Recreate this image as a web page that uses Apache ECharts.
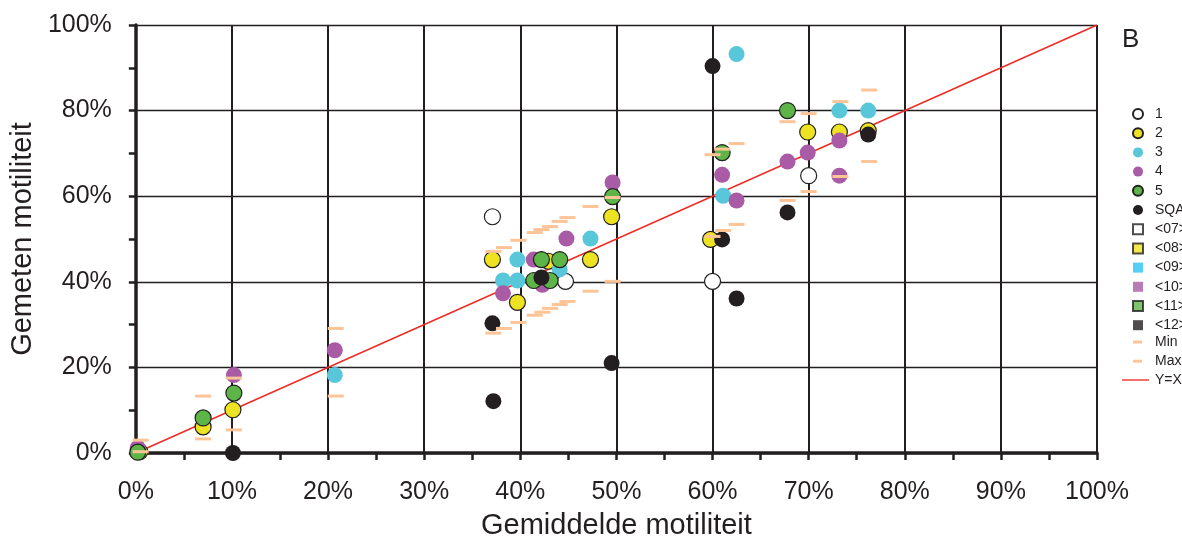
<!DOCTYPE html>
<html>
<head>
<meta charset="utf-8">
<script src="https://cdn.jsdelivr.net/npm/echarts@6/dist/echarts.min.js"></script>
<style>
  html, body { margin: 0; padding: 0; background: #fff; }
  #chart { width: 1182px; height: 545px; }
</style>
</head>
<body>
<div id="chart"></div>
<script>
// values in percent, [gemiddelde, gemeten]
const series1 = [[37.1, 55.2], [44.7, 40.1], [60.0, 40.1], [70.0, 64.8]];
const series2 = [[0.4, 0.3], [7.0, 6.1], [10.1, 10.1], [37.1, 45.2], [39.7, 35.2], [42.9, 44.8],
  [47.3, 45.2], [49.5, 55.2], [59.8, 49.9], [69.9, 75.0], [73.2, 75.0], [76.2, 75.3]];
const series3 = [[20.7, 18.2], [38.2, 40.3], [39.7, 40.3], [39.7, 45.2], [44.1, 42.9], [47.3, 50.1],
  [61.1, 60.1], [62.5, 93.2], [73.2, 80.0], [76.2, 80.0]];
const series4 = [[0.2, 1.2], [10.2, 18.2], [20.7, 24.0], [38.2, 37.3], [41.4, 45.2], [42.3, 39.3],
  [44.8, 50.1], [49.6, 63.2], [61.0, 65.0], [62.5, 59.0], [67.8, 68.1], [69.9, 70.2], [73.2, 73.0], [73.2, 64.8]];
const series5 = [[0.2, 0.2], [7.0, 8.2], [10.2, 14.0], [41.4, 40.3], [42.2, 45.2], [43.1, 40.3],
  [44.1, 45.2], [49.6, 59.9], [61.0, 70.2], [67.8, 80.0]];
const sqa = [[10.1, 0], [37.1, 30.3], [37.2, 12.1], [42.2, 41.0], [49.5, 21.0], [60.0, 90.4],
  [61.0, 49.9], [62.5, 36.1], [67.8, 56.2], [76.2, 74.4]];
const minValues = [[0.5, 0.3], [7.0, 3.3], [10.2, 5.4], [20.8, 13.3], [37.2, 28.0], [38.3, 29.1],
  [39.8, 30.5], [41.5, 32.2], [42.3, 32.9], [43.1, 33.8], [44.1, 34.7], [44.9, 35.4], [47.3, 37.8],
  [49.6, 40.1], [60.0, 50.6], [61.1, 52.0], [62.5, 53.4], [67.8, 59.0], [70.0, 61.1], [73.3, 64.6], [76.3, 68.1]];
const maxValues = [[0.5, 3.0], [7.0, 13.3], [10.2, 17.5], [20.8, 29.1], [37.2, 47.1], [38.3, 48.0],
  [39.8, 49.7], [41.5, 51.5], [42.2, 52.2], [43.1, 52.9], [44.1, 54.1], [44.9, 55.0], [47.3, 57.6],
  [49.6, 59.7], [60.0, 69.7], [61.0, 71.0], [62.5, 72.3], [67.8, 77.4], [70.0, 79.3], [73.3, 82.1], [76.3, 84.8]];
const identityLine = [[0, 0], [100, 100]];
const squareNames = ['<07>', '<08>', '<09>', '<10>', '<11>', '<12>'];

const ink = '#231f20';
const dash = '#fdc497';
const fontFamily = '"Liberation Sans", Arial, sans-serif';

const circle = (name, data, color, border) => ({
  name,
  type: 'scatter',
  data,
  symbol: 'circle',
  symbolSize: 16,
  itemStyle: { color, opacity: 1, borderColor: ink, borderWidth: border ? 1.2 : 0 },
});
const square = (name, color, border) => ({
  name,
  type: 'scatter',
  data: [],
  symbol: 'rect',
  itemStyle: { color, borderColor: ink, borderWidth: border ? 1.5 : 0 },
});
const dashSeries = (name, data) => ({
  name,
  type: 'scatter',
  data,
  symbol: 'rect',
  symbolSize: [16, 3],
  z: 5,
  itemStyle: { color: dash, opacity: 1 },
});

const legendText = { color: ink, fontSize: 14, fontFamily, padding: [0, 0, 0, 7] };

const chart = echarts.init(document.getElementById('chart'));
chart.setOption({
  animation: false,
  title: {
    text: 'B', left: 1117, top: 22,
    textStyle: { color: ink, fontSize: 26, fontWeight: 'normal', fontFamily },
  },
  grid: { left: 135, right: 85, top: 25, bottom: 91 },
  legend: [
    {
      orient: 'vertical', left: 1127, top: 102, itemWidth: 10, itemHeight: 10, itemGap: 5.2,
      textStyle: legendText,
      data: [
        { name: '1', icon: 'circle' }, { name: '2', icon: 'circle' }, { name: '3', icon: 'circle' },
        { name: '4', icon: 'circle' }, { name: '5', icon: 'circle' }, { name: 'SQA', icon: 'circle' },
        ...squareNames.map((n) => ({ name: n, icon: 'rect' })),
      ],
    },
    {
      orient: 'vertical', left: 1128, top: 330, itemWidth: 9, itemHeight: 3, itemGap: 5.2,
      textStyle: { ...legendText, padding: [0, 0, 0, 8] },
      data: [{ name: 'Min', icon: 'rect' }, { name: 'Max', icon: 'rect' }],
    },
    {
      orient: 'vertical', left: 1117, top: 368, itemWidth: 27, itemHeight: 10,
      textStyle: { ...legendText, padding: [0, 0, 0, 1] },
      data: [{ name: 'Y=X', icon: 'path://M0,0 L30,0 L30,1.5 L0,1.5 Z' }],
    },
  ],
  xAxis: {
    type: 'value', min: 0, max: 100, interval: 10,
    name: 'Gemiddelde motiliteit', nameLocation: 'middle', nameGap: 58,
    nameTextStyle: { color: ink, fontSize: 29, fontFamily },
    axisLine: { show: true, onZero: false, lineStyle: { color: ink, width: 3.5 } },
    axisTick: { show: true, length: 7, lineStyle: { color: ink, width: 2.5 } },
    minorTick: { show: true, splitNumber: 2, length: 7, lineStyle: { color: ink, width: 2.5 } },
    axisLabel: { formatter: '{value}%', color: ink, fontSize: 25, fontFamily, margin: 27 },
    splitLine: { show: true, lineStyle: { color: ink, width: 2 } },
  },
  yAxis: {
    type: 'value', min: 0, max: 100, interval: 20,
    name: 'Gemeten motiliteit', nameLocation: 'middle', nameGap: 96, nameRotate: 90,
    nameTextStyle: { color: ink, fontSize: 29, fontFamily },
    axisLine: { show: true, onZero: false, lineStyle: { color: ink, width: 3.5 } },
    axisTick: { show: true, length: 7, lineStyle: { color: ink, width: 2.5 } },
    minorTick: { show: true, splitNumber: 2, length: 7, lineStyle: { color: ink, width: 2.5 } },
    axisLabel: { formatter: '{value}%', color: ink, fontSize: 25, fontFamily, margin: 24 },
    splitLine: { show: true, lineStyle: { color: ink, width: 1.3 } },
  },
  series: [
    {
      name: 'Y=X', type: 'line', data: identityLine, symbol: 'none', z: 1,
      lineStyle: { color: '#ee2b24', width: 1.5 }, itemStyle: { color: '#ee2b24' },
    },
    circle('1', series1, '#ffffff', true),
    circle('2', series2, '#eee322', true),
    circle('3', series3, '#58c7da', false),
    circle('4', series4, '#a95ba6', false),
    circle('5', series5, '#5db548', true),
    circle('SQA', sqa, ink, false),
    square('<07>', '#ffffff', true),
    square('<08>', '#eee322', true),
    square('<09>', '#2ac3f3', false),
    square('<10>', '#a95ba6', false),
    square('<11>', '#5db548', true),
    square('<12>', ink, false),
    dashSeries('Min', minValues),
    dashSeries('Max', maxValues),
  ],
});
</script>
</body>
</html>
